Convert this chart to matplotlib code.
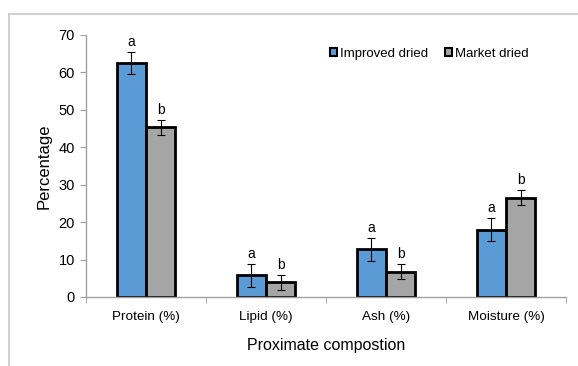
import numpy as np
import matplotlib.pyplot as plt
from matplotlib.lines import Line2D
from matplotlib.patches import Patch

plt.rcParams['font.family'] = ['Liberation Sans', 'DejaVu Sans']

categories = ['Protein (%)', 'Lipid (%)', 'Ash (%)', 'Moisture (%)']
improved = [62.5, 5.8, 12.7, 18.0]
improved_err = [3.0, 3.0, 3.0, 3.0]
market = [45.3, 4.0, 6.7, 26.5]
market_err = [2.0, 2.0, 2.0, 2.0]
improved_letters = ['a', 'a', 'a', 'a']
market_letters = ['b', 'b', 'b', 'b']

blue = '#5b9bd5'
grey = '#a5a5a5'

fig = plt.figure(figsize=(5.78, 3.66), dpi=100)
ax = fig.add_axes([86/578, 1-297/366, 480/578, 262/366])

x = np.arange(len(categories))
w = 0.245
ax.bar(x - w/2, improved, w, color=blue, edgecolor='black', linewidth=2,
       yerr=improved_err, error_kw=dict(ecolor='black', elinewidth=0.8, capsize=3, capthick=0.8),
       label='Improved dried', zorder=2)
ax.bar(x + w/2, market, w, color=grey, edgecolor='black', linewidth=2,
       yerr=market_err, error_kw=dict(ecolor='black', elinewidth=0.8, capsize=3, capthick=0.8),
       label='Market dried', zorder=2)

for i in range(len(categories)):
    ax.text(x[i] - w/2, improved[i] + improved_err[i] + 0.8, improved_letters[i],
            ha='center', va='bottom', fontsize=10)
    ax.text(x[i] + w/2, market[i] + market_err[i] + 0.8, market_letters[i],
            ha='center', va='bottom', fontsize=10)

ax.set_xlim(-0.5, len(categories) - 0.5)
ax.set_ylim(0, 70)
ax.set_yticks(range(0, 71, 10))
ax.set_xticks(x)
ax.set_xticklabels(categories, fontsize=9.7)
ax.set_xticks(np.arange(-0.5, len(categories), 1), minor=True)
ax.tick_params(axis='x', which='major', length=0, pad=10)
ax.tick_params(axis='x', which='minor', length=4, color='#a0a0a0', direction='out')
ax.tick_params(axis='y', length=4, color='#a0a0a0', labelsize=10.5, pad=4)

for s in ['top', 'right']:
    ax.spines[s].set_visible(False)
for s in ['left', 'bottom']:
    ax.spines[s].set_color('#a0a0a0')
    ax.spines[s].set_linewidth(1)

ax.set_ylabel('Percentage', fontsize=12, labelpad=5)
ax.set_xlabel('Proximate compostion', fontsize=11.5, labelpad=11)

handles = [Patch(facecolor=blue, edgecolor='black', linewidth=1.5),
           Patch(facecolor=grey, edgecolor='black', linewidth=1.5)]
ax.legend(handles, ['Improved dried', 'Market dried'], loc='upper left',
          bbox_to_anchor=(318/578, 1-36/366), bbox_transform=fig.transFigure,
          ncol=2, frameon=False, fontsize=9.5, handlelength=0.55, handleheight=0.55,
          handletextpad=0.2, columnspacing=1.3)

# outer chart frame
fig.add_artist(Line2D([9/578, 9/578], [0, 1-14/366], color='#c8c8c8', lw=1.2))
fig.add_artist(Line2D([9/578, 1], [1-14/366, 1-14/366], color='#c8c8c8', lw=1.2))

fig.savefig('out.png', dpi=100)
